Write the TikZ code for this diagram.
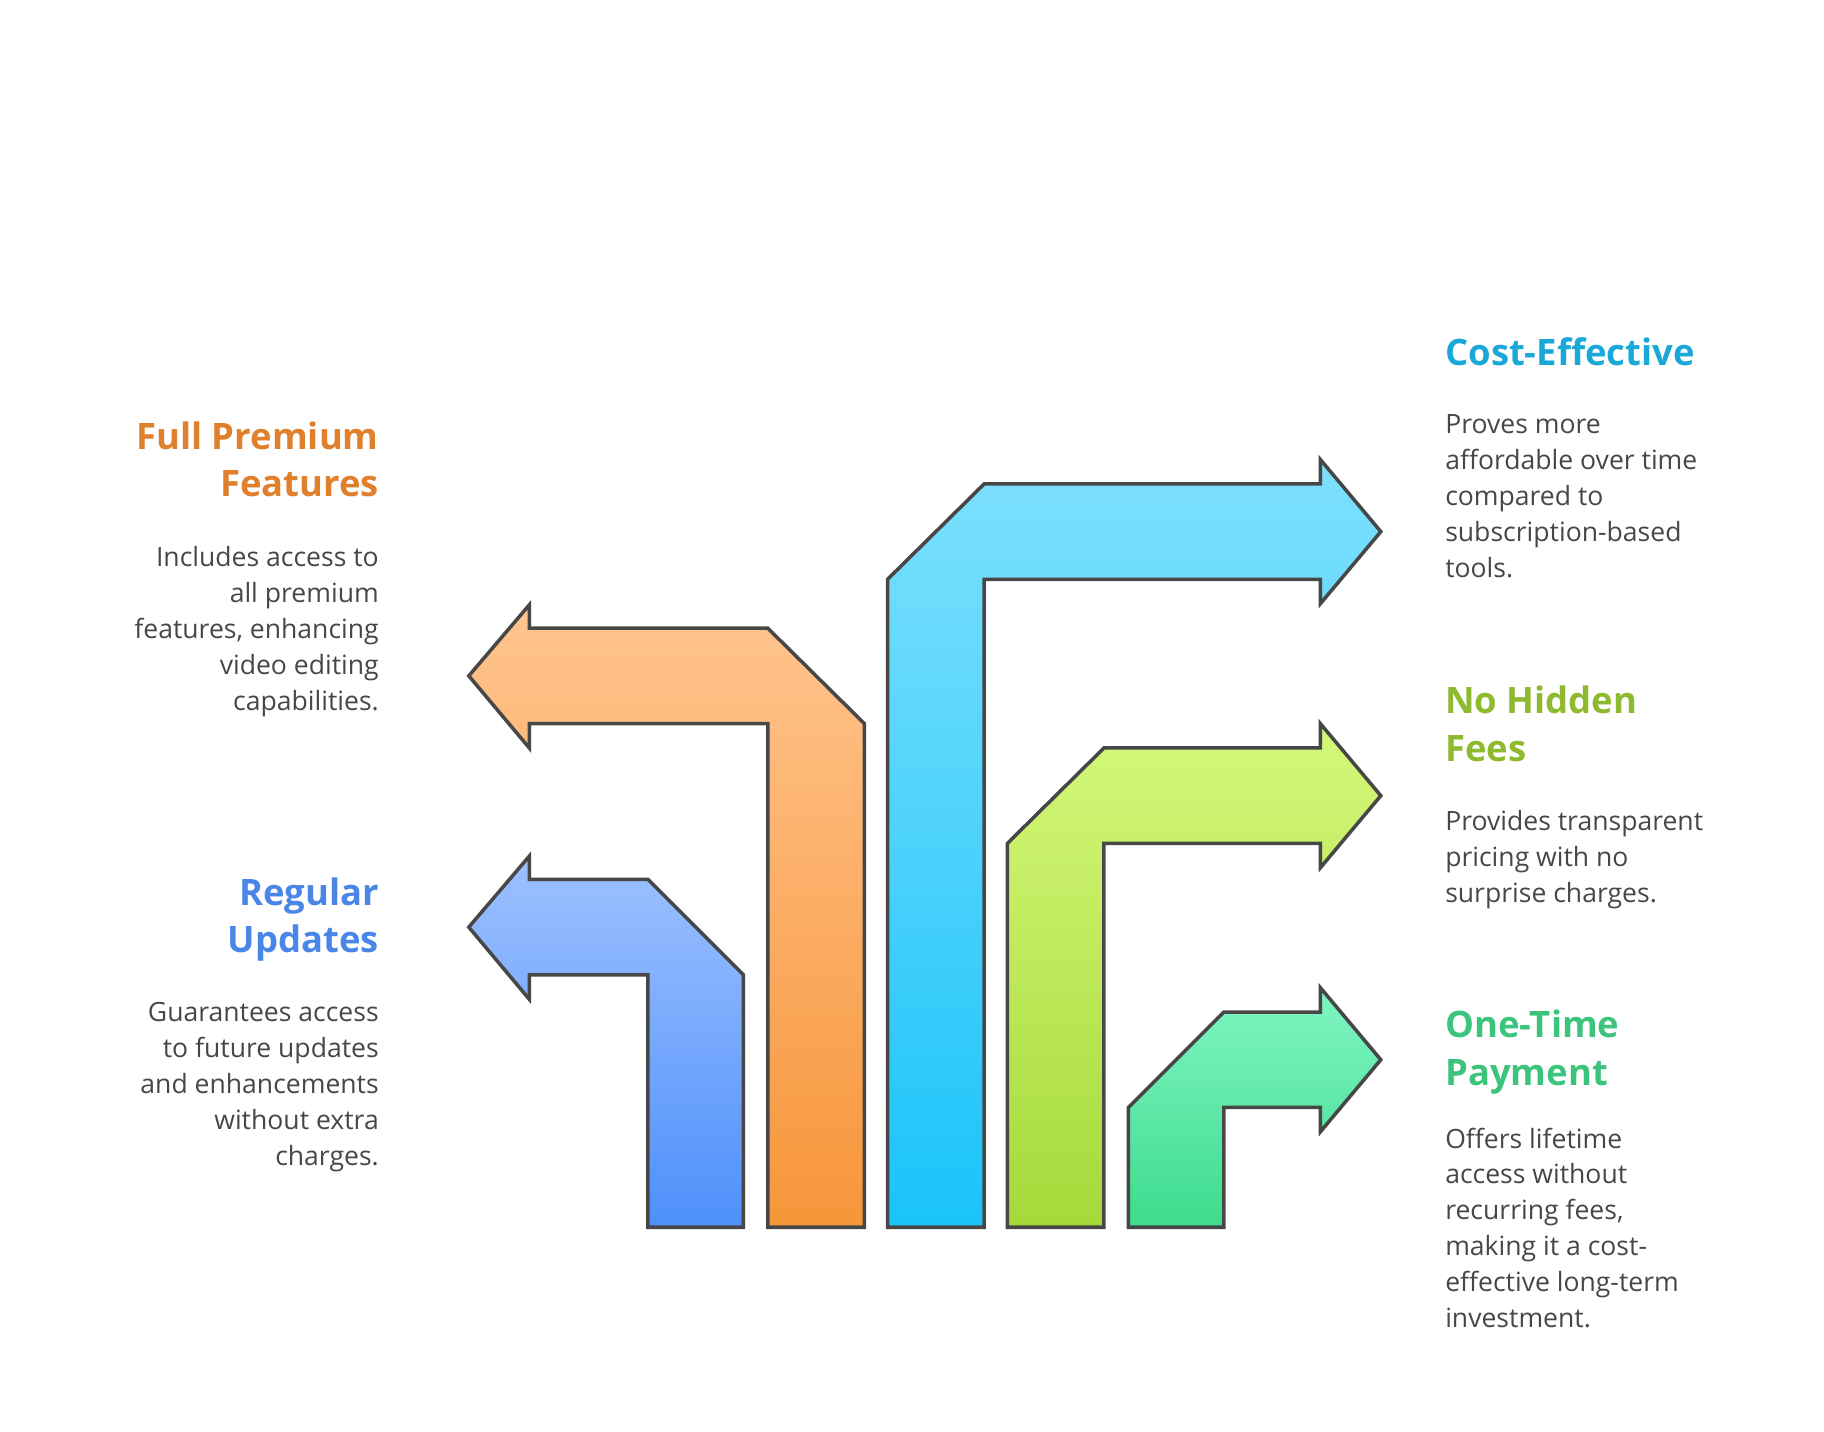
\documentclass[tikz,border=0pt]{standalone}
\usepackage{fontspec}
\setmainfont{Open Sans}
\begin{document}
\begin{tikzpicture}[x=0.495pt,y=-0.495pt,
  arr/.style={draw=black!72,line width=1.5pt,line join=miter},
  ttl/.style={inner sep=0pt,font=\fontsize{15.5}{20.3}\selectfont\bfseries},
  bdy/.style={inner sep=0pt,text=black!72,font=\fontsize{11.3}{15.3}\selectfont},
  lft/.style={align=right,anchor=north east},
  rgt/.style={align=left,anchor=north west}]
\useasboundingbox (0,0) rectangle (1568,1231);
\definecolor{cO}{HTML}{E07F2C}\definecolor{cB}{HTML}{4A86E8}
\definecolor{cC}{HTML}{1AA8D8}\definecolor{cG}{HTML}{8DBA2E}
\definecolor{cM}{HTML}{3CC47D}
% arrows
\path[arr,top color={rgb,255:red,157;green,193;blue,255},bottom color={rgb,255:red,78;green,144;blue,251}]
 (639,1055)--(557,1055)--(557,838)--(455,838)--(455,859)--(403,797)--(455,736)--(455,756)--(557,756)--(639,838)--cycle;
\path[arr,top color={rgb,255:red,255;green,196;blue,142},bottom color={rgb,255:red,247;green,150;blue,58}]
 (743,1055)--(660,1055)--(660,622)--(455,622)--(455,643)--(403,581)--(455,520)--(455,540)--(660,540)--(743,622)--cycle;
\path[arr,top color={rgb,255:red,126;green,224;blue,253},bottom color={rgb,255:red,26;green,195;blue,249}]
 (763,1055)--(763,498)--(846,416)--(1135,416)--(1135,395)--(1187,457)--(1135,519)--(1135,498)--(846,498)--(846,1055)--cycle;
\path[arr,top color={rgb,255:red,212;green,248;blue,122},bottom color={rgb,255:red,165;green,217;blue,58}]
 (866,1055)--(866,725)--(949,643)--(1135,643)--(1135,622)--(1187,684)--(1135,746)--(1135,725)--(949,725)--(949,1055)--cycle;
\path[arr,top color={rgb,255:red,128;green,245;blue,194},bottom color={rgb,255:red,61;green,219;blue,141}]
 (970,1055)--(970,952)--(1052,870)--(1135,870)--(1135,849)--(1187,911)--(1135,973)--(1135,952)--(1052,952)--(1052,1055)--cycle;
% texts
\node[ttl,lft,text=cO] (t1) at (326,362) {Full Premium\\Features};
\node[bdy,lft] (b1) at (326,469) {Includes access to\\all premium\\features, enhancing\\video editing\\capabilities.};
\node[ttl,lft,text=cB] (t2) at (326,754) {Regular\\Updates};
\node[bdy,lft] (b2) at (326,861) {Guarantees access\\to future updates\\and enhancements\\without extra\\charges.};
\node[ttl,rgt,text=cC] (t3) at (1242,290) {Cost-Effective};
\node[bdy,rgt] (b3) at (1242,356) {Proves more\\affordable over time\\compared to\\subscription-based\\tools.};
\node[ttl,rgt,text=cG] (t4) at (1242,589) {No Hidden\\Fees};
\node[bdy,rgt] (b4) at (1242,696) {Provides transparent\\pricing with no\\surprise charges.};
\node[ttl,rgt,text=cM] (t5) at (1242,868) {One-Time\\Payment};
\node[bdy,rgt] (b5) at (1242,969) {Offers lifetime\\access without\\recurring fees,\\making it a cost-\\effective long-term\\investment.};
\end{tikzpicture}
\end{document}
